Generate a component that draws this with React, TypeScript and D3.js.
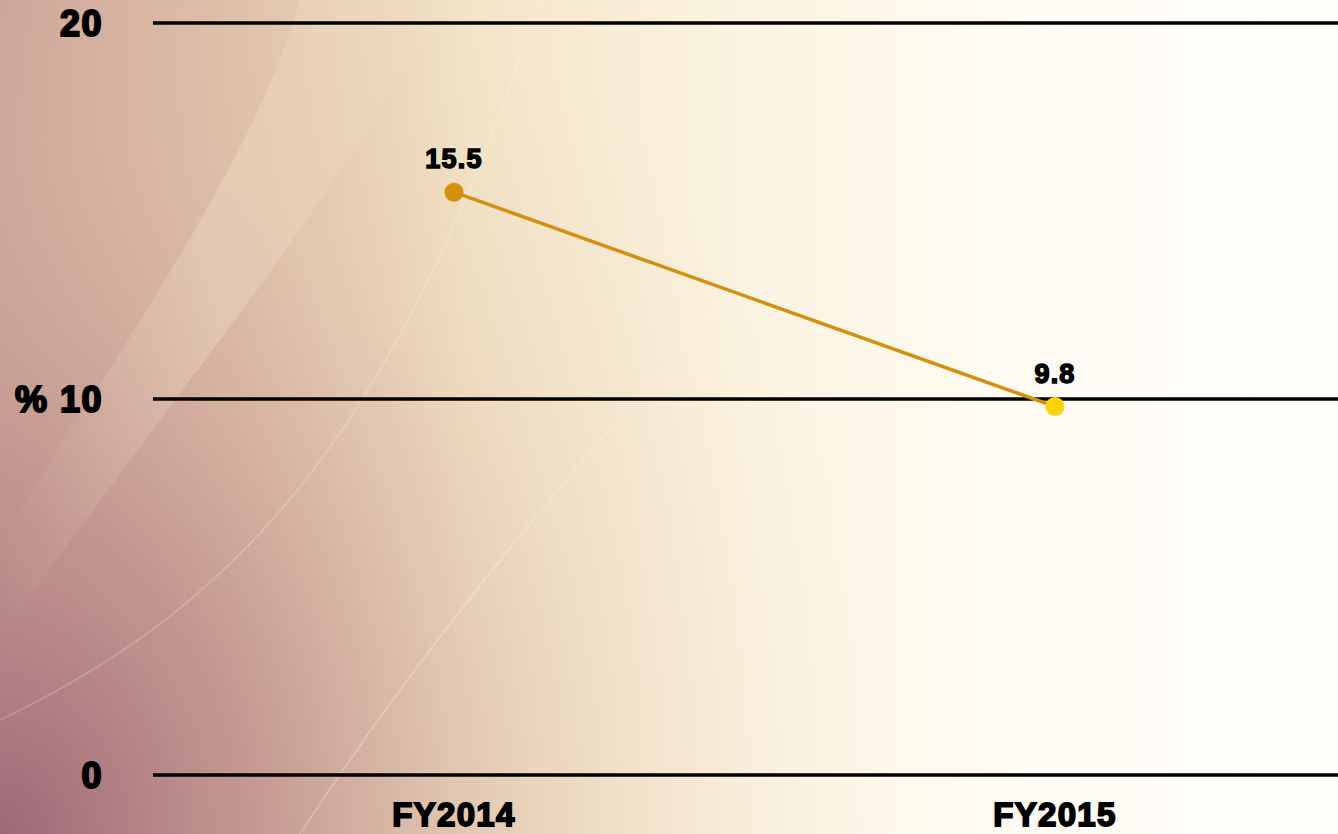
import React from "react";
import * as d3 from "d3";

const categories: string[] = ["FY2014", "FY2015"];
const values: number[] = [15.5, 9.8];
const pointColors: string[] = ["#D4900E", "#FDD30F"];
const yTicks: number[] = [0, 10, 20];
const yTickLabels: string[] = ["0", "% 10", "20"];

const W = 1338;
const H = 834;

export default function App() {
  const x = d3.scalePoint<string>().domain(categories).range([454, 1055]);
  const y = d3.scaleLinear().domain([0, 20]).range([775, 23]);
  const line = d3
    .line<number>()
    .x((_, i) => x(categories[i]) as number)
    .y((d) => y(d));

  const font = "'Liberation Sans', Arial, sans-serif";

  return (
    <div style={{ position: "fixed", left: 0, top: 0, width: W, height: H }}>
      <svg width={W} height={H} style={{ display: "block" }}>
        <defs>
          <linearGradient id="bgH" x1="0" y1="0" x2="1" y2="0">
            <stop offset="0" stopColor="#C9A196" />
            <stop offset="0.18" stopColor="#DFC0A8" />
            <stop offset="0.35" stopColor="#F3E4C7" />
            <stop offset="0.55" stopColor="#FBF3E0" />
            <stop offset="0.75" stopColor="#FFFBF3" />
            <stop offset="1" stopColor="#FFFEFB" />
          </linearGradient>
          <radialGradient
            id="bgBL"
            cx="0"
            cy="834"
            r="900"
            gradientUnits="userSpaceOnUse"
            gradientTransform="translate(0,834) scale(1,1.1) translate(0,-834)"
          >
            <stop offset="0" stopColor="#9C6476" stopOpacity="0.95" />
            <stop offset="0.35" stopColor="#BC8C8A" stopOpacity="0.6" />
            <stop offset="0.7" stopColor="#DDBDA8" stopOpacity="0.25" />
            <stop offset="1" stopColor="#E8D0B8" stopOpacity="0" />
          </radialGradient>
          <linearGradient id="band" x1="0" y1="0" x2="1" y2="0">
            <stop offset="0" stopColor="#FFF8DC" stopOpacity="0" />
            <stop offset="0.5" stopColor="#FFF8DC" stopOpacity="0.5" />
            <stop offset="1" stopColor="#FFF8DC" stopOpacity="0" />
          </linearGradient>
        </defs>
        <rect x={0} y={0} width={W} height={H} fill="url(#bgH)" />
        <rect x={0} y={0} width={W} height={H} fill="url(#bgBL)" />
        <path
          d="M 300 0 C 260 150 120 350 0 540 L 0 640 C 150 420 330 220 440 0 Z"
          fill="url(#band)"
          opacity={0.45}
        />
        <path
          d="M 0 720 C 250 600 400 420 540 0"
          fill="none"
          stroke="#FFF8E6"
          strokeOpacity={0.2}
          strokeWidth={2}
        />
        <path
          d="M 300 834 C 420 650 560 480 760 260"
          fill="none"
          stroke="#FFF8E6"
          strokeOpacity={0.25}
          strokeWidth={2}
        />

        {yTicks.map((t) => (
          <line key={"g" + t} x1={153} x2={W} y1={y(t)} y2={y(t)} stroke="#000" strokeWidth={3.5} />
        ))}
        {yTicks.map((t, i) => (
          <text
            key={"yl" + t}
            x={103}
            y={y(t)}
            dy="0.36em"
            textAnchor="end"
            fontFamily={font}
            fontWeight="bold"
            fontSize={36}
            stroke="#000"
            strokeWidth={2}
            letterSpacing={1.5}
            fill="#000"
          >
            {yTickLabels[i]}
          </text>
        ))}
        {categories.map((c) => (
          <text
            key={"xl" + c}
            x={x(c)}
            y={826}
            textAnchor="middle"
            fontFamily={font}
            fontWeight="bold"
            fontSize={33}
            stroke="#000"
            strokeWidth={1.8}
            letterSpacing={1.3}
            fill="#000"
          >
            {c}
          </text>
        ))}

        <path d={line(values) || ""} fill="none" stroke="#D4900D" strokeWidth={3.5} />
        {values.map((v, i) => (
          <circle key={"p" + i} cx={x(categories[i])} cy={y(v)} r={9.5} fill={pointColors[i]} />
        ))}
        {values.map((v, i) => (
          <text
            key={"dl" + i}
            x={x(categories[i])}
            y={y(v) - 24}
            textAnchor="middle"
            fontFamily={font}
            fontWeight="bold"
            fontSize={27}
            stroke="#000"
            strokeWidth={1.5}
            letterSpacing={1.2}
            fill="#000"
          >
            {String(v)}
          </text>
        ))}
      </svg>
    </div>
  );
}
